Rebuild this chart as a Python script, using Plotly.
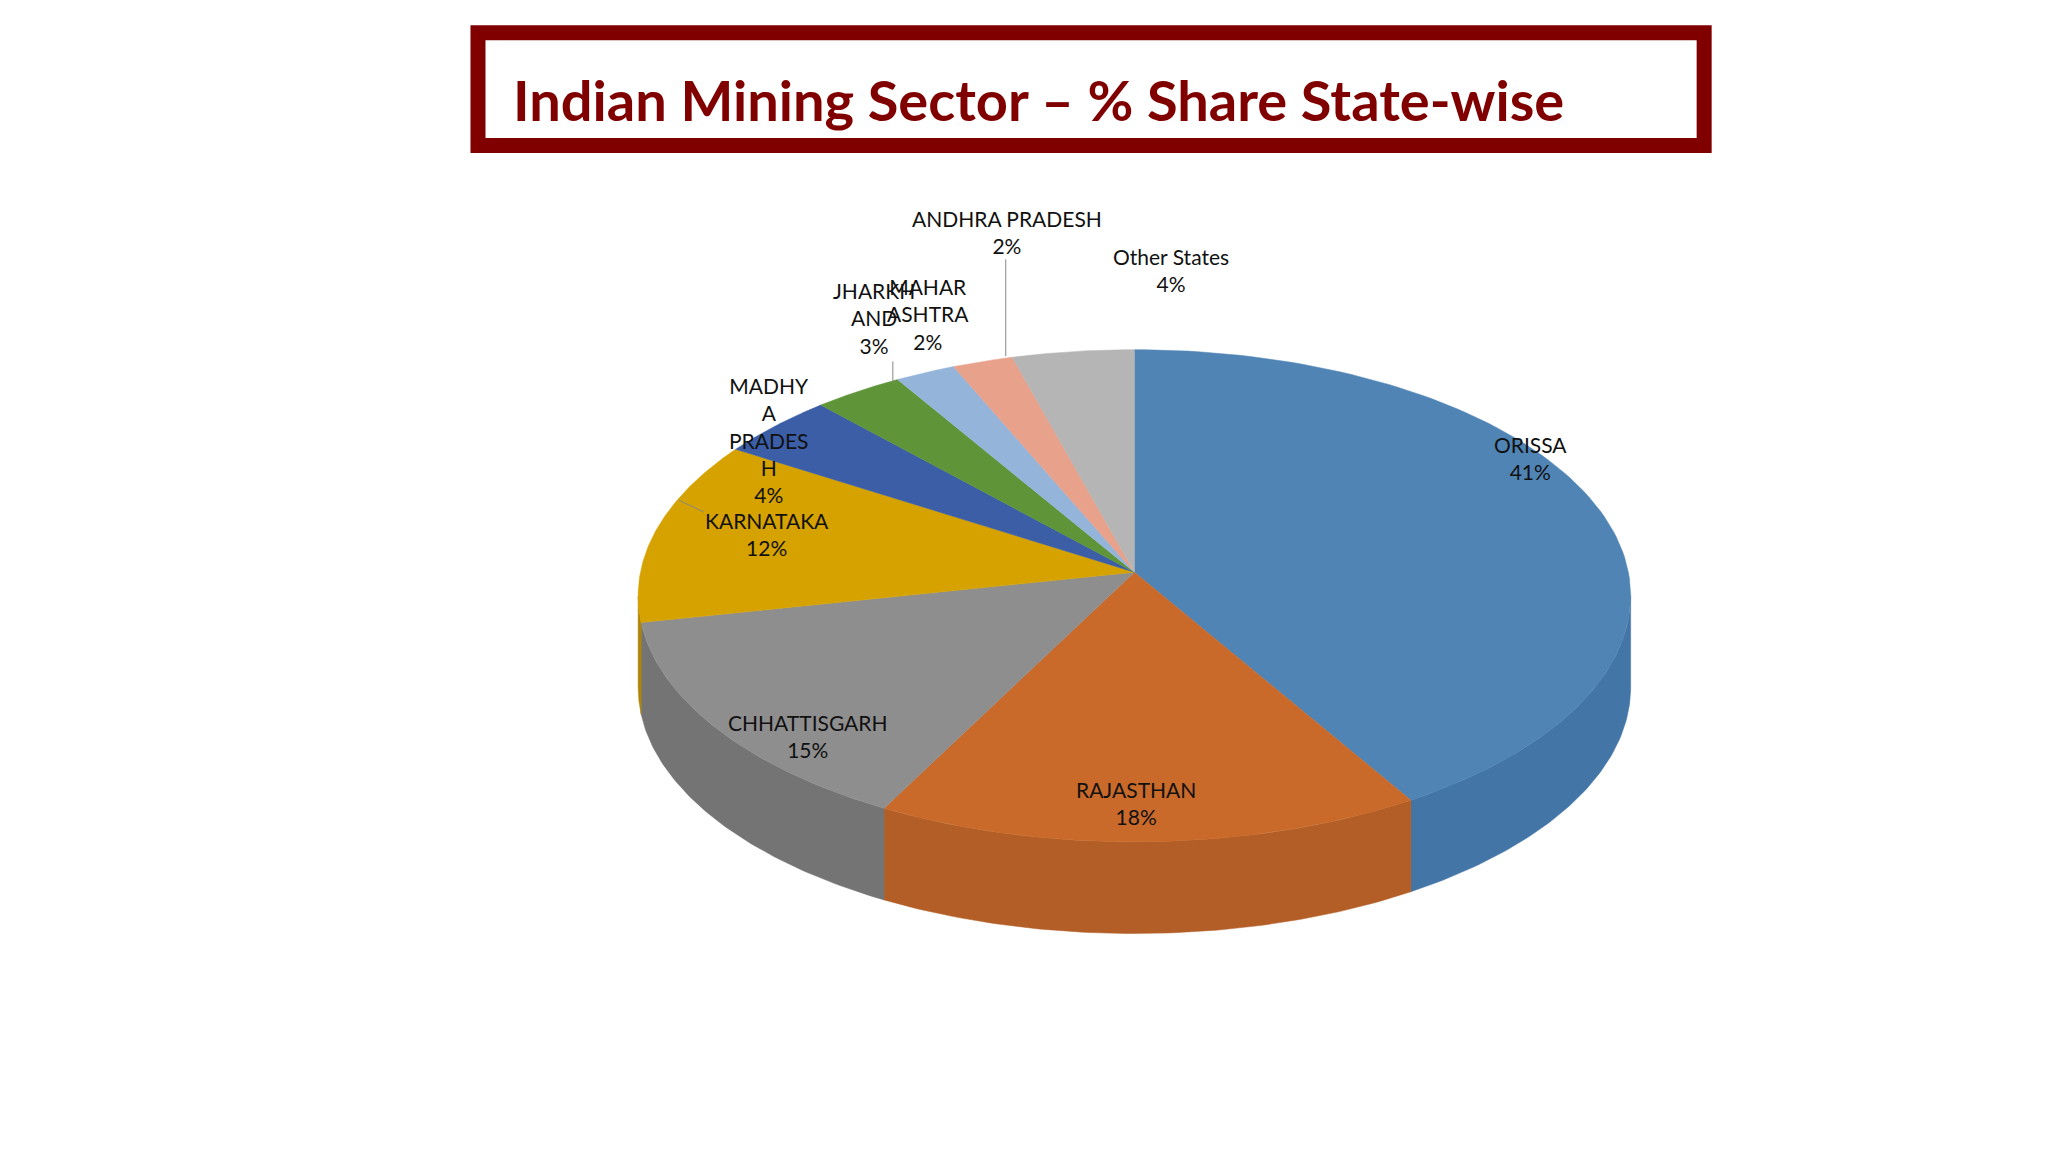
import numpy as np
import plotly.graph_objects as go

states = ["ORISSA", "RAJASTHAN", "CHHATTISGARH", "KARNATAKA", "MADHYA PRADESH",
          "JHARKHAND", "MAHARASHTRA", "ANDHRA PRADESH", "Other States"]
shares = [41, 18, 15, 12, 4, 3, 2, 2, 4]
label_text = ["ORISSA<br>41%", "RAJASTHAN<br>18%", "CHHATTISGARH<br>15%", "KARNATAKA<br>12%",
              "MADHY<br>A<br>PRADES<br>H<br>4%", "JHARKH<br>AND<br>3%", "MAHAR<br>ASHTRA<br>2%",
              "ANDHRA PRADESH<br>2%", "Other States<br>4%"]
top_colors = ["#4F84B5", "#C96A2A", "#8E8E8E", "#D6A200", "#3B5EA6", "#5F9439", "#94B4DA", "#E8A18A", "#B5B5B5"]
side_colors = ["#4375A6", "#B35E27", "#747474", "#B08400", "#2E4B86", "#4B7A2C", "#7594B8", "#C48472", "#959595"]
label_pos = [(1170, 350), (869, 613), (619, 562), (588, 408), (590, 336),
             (670, 243), (711, 240), (771, 177), (896, 206)]

ax, ay = 868, 437              # apex of the pie
cx, cy, rx, ry, depth = 868, 455, 378, 188, 70
S = 1560 / 2048

fig = go.Figure()
fr = np.array(shares, float) / sum(shares)
bounds = np.concatenate([[0], np.cumsum(fr)]) * 2 * np.pi

def pt(t):
    return cx + rx * np.sin(t), cy - ry * np.cos(t)

for i in range(len(states)):
    a, b = bounds[i], bounds[i + 1]
    lo, hi = max(a, np.pi / 2), min(b, 3 * np.pi / 2)
    if hi <= lo:
        continue
    t = np.linspace(lo, hi, 80)
    x, y = pt(t)
    xs = np.concatenate([x, x[::-1], [x[0]]])
    ys = np.concatenate([y, y[::-1] + depth, [y[0]]])
    fig.add_trace(go.Scatter(x=xs, y=ys, fill="toself", fillcolor=side_colors[i], mode="lines",
                             line=dict(color=side_colors[i], width=0.5), hoverinfo="skip", showlegend=False))
for i in range(len(states)):
    t = np.linspace(bounds[i], bounds[i + 1], 120)
    x, y = pt(t)
    xs = np.concatenate([[ax], x, [ax]])
    ys = np.concatenate([[ay], y, [ay]])
    fig.add_trace(go.Scatter(x=xs, y=ys, fill="toself", fillcolor=top_colors[i], mode="lines",
                             line=dict(color=top_colors[i], width=0.5), name=states[i],
                             hoverinfo="name", showlegend=False))

for txt, (lx, ly) in zip(label_text, label_pos):
    fig.add_annotation(x=lx, y=ly, text=txt, showarrow=False, xref="x", yref="y",
                       font=dict(family="Lato, Open Sans", size=21, color="#111111"))

for (x0, y0, x1, y1) in [(770, 198, 770, 272), (684, 276, 684, 292), (521, 382, 540, 391)]:
    fig.add_shape(type="line", x0=x0, y0=y0, x1=x1, y1=y1, xref="x", yref="y",
                  line=dict(color="#888888", width=1))

fig.add_shape(type="rect", x0=368, y0=25, x1=1302, y1=111, xref="x", yref="y",
              line=dict(color="#800000", width=15), fillcolor="white")
fig.add_annotation(x=393, y=76, xanchor="left", text="<b>Indian Mining Sector – % Share State-wise</b>",
                   showarrow=False, xref="x", yref="y",
                   font=dict(family="Lato, Open Sans", size=56, color="#800000"))

fig.update_layout(width=2048, height=1152, margin=dict(l=0, r=0, t=0, b=0),
                  plot_bgcolor="white", paper_bgcolor="white",
                  xaxis=dict(range=[10, 1570], visible=False, fixedrange=True),
                  yaxis=dict(range=[886, 6], visible=False, fixedrange=True))
fig.write_html("out.html")
